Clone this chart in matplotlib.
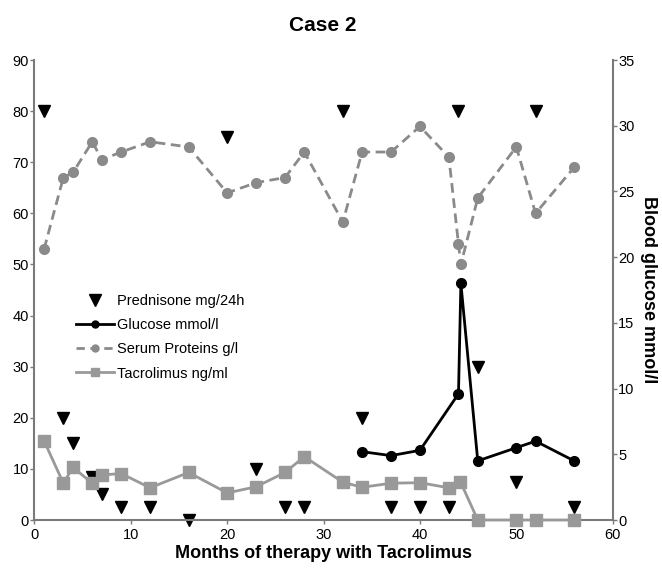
import matplotlib
matplotlib.use("Agg")
import matplotlib.pyplot as plt
from matplotlib.lines import Line2D

plt.rcParams['font.family'] = ['Liberation Sans', 'DejaVu Sans']

# Data
pred_x = [1, 3, 4, 6, 7, 9, 12, 16, 20, 23, 26, 28, 32, 34, 37, 40, 43, 44, 46, 50, 52, 56]
pred_y = [80, 20, 15, 8.5, 5, 2.5, 2.5, 0, 75, 10, 2.5, 2.5, 80, 20, 2.5, 2.5, 2.5, 80, 30, 7.5, 80, 2.5]

prot_x = [1, 3, 4, 6, 7, 9, 12, 16, 20, 23, 26, 28, 32, 34, 37, 40, 43, 44, 44.25, 46, 50, 52, 56]
prot_y = [53, 67, 68, 74, 70.5, 72, 74, 73, 64, 66, 67, 72, 58.3, 72, 72, 77, 71, 54, 50, 63, 73, 60, 69]

tac_x = [1, 3, 4, 6, 7, 9, 12, 16, 20, 23, 26, 28, 32, 34, 37, 40, 43, 44.2, 46, 50, 52, 56]
tac_y = [15.5, 7.2, 10.3, 7.2, 8.8, 9.1, 6.3, 9.3, 5.3, 6.5, 9.3, 12.4, 7.4, 6.4, 7.2, 7.3, 6.3, 7.5, 0, 0, 0, 0]

glu_x = [34, 37, 40, 44, 44.25, 46, 50, 52, 56]
glu_y = [5.2, 4.9, 5.3, 9.6, 18.0, 4.5, 5.5, 6.0, 4.5]

xticks = [0, 10, 20, 30, 40, 50, 60]
lticks = [0, 10, 20, 30, 40, 50, 60, 70, 80, 90]
rticks = [0, 5, 10, 15, 20, 25, 30, 35]

spine_c = '#7a7a7a'
prot_c = '#8a8a8a'
tac_c = '#999999'

fig = plt.figure(figsize=(6.62, 5.70), dpi=100)
ax = fig.add_axes([0.052, 0.0877, 0.8735, 0.807])
ax2 = ax.twinx()

ax.set_xlim(0, 60)
ax.set_ylim(0, 90)
ax2.set_ylim(0, 35)

ax.plot(prot_x, prot_y, color=prot_c, ls=(0, (3.5, 2)), lw=2, marker='o', ms=7,
        zorder=3, clip_on=False)
ax.plot(tac_x, tac_y, color=tac_c, lw=2, marker='s', ms=8, zorder=4, clip_on=False)
ax.plot(pred_x, pred_y, ls='none', marker='v', color='black', ms=9, zorder=2, clip_on=False)
ax2.plot(glu_x, glu_y, color='black', lw=2, marker='o', ms=7, zorder=5, clip_on=False)

for a in (ax, ax2):
    for s in a.spines.values():
        s.set_color(spine_c)
        s.set_linewidth(1.5)
    a.spines['top'].set_visible(False)
ax.spines['right'].set_visible(False)
ax2.spines['left'].set_visible(False)
ax2.spines['bottom'].set_visible(False)

ax.set_xticks(xticks)
ax.set_yticks(lticks)
ax2.set_yticks(rticks)
ax.tick_params(axis='both', colors=spine_c, labelcolor='black', labelsize=10.5, length=3, width=1)
ax2.tick_params(axis='y', colors=spine_c, labelcolor='black', labelsize=10.5, length=3, width=1, pad=1)
ax.tick_params(axis='y', pad=1)
ax.tick_params(axis='x', pad=3)

ax.set_xlabel('Months of therapy with Tacrolimus', fontsize=13, fontweight='bold', labelpad=2)
ax2.set_ylabel('Blood glucose mmol/l', fontsize=13, fontweight='bold', rotation=270, labelpad=16)
fig.text(0.488, 0.955, 'Case 2', fontsize=15, fontweight='bold', ha='center', va='center')

ax.set_zorder(ax2.get_zorder() + 1)
ax.patch.set_visible(False)

handles = [
    Line2D([], [], ls='none', marker='v', color='black', ms=9),
    Line2D([], [], color='black', lw=2, marker='o', ms=5),
    Line2D([], [], color=prot_c, lw=2, ls=(0, (3, 2)), marker='o', ms=5),
    Line2D([], [], color=tac_c, lw=2, marker='s', ms=6),
]
labels = ['Prednisone mg/24h', 'Glucose mmol/l', 'Serum Proteins g/l', 'Tacrolimus ng/ml']
ax.legend(handles, labels, loc='upper left', bbox_to_anchor=(0.05, 0.52), frameon=False,
          fontsize=10.5, handlelength=2.6, handletextpad=0.15, labelspacing=0.7)

fig.savefig('out.png', dpi=100)
